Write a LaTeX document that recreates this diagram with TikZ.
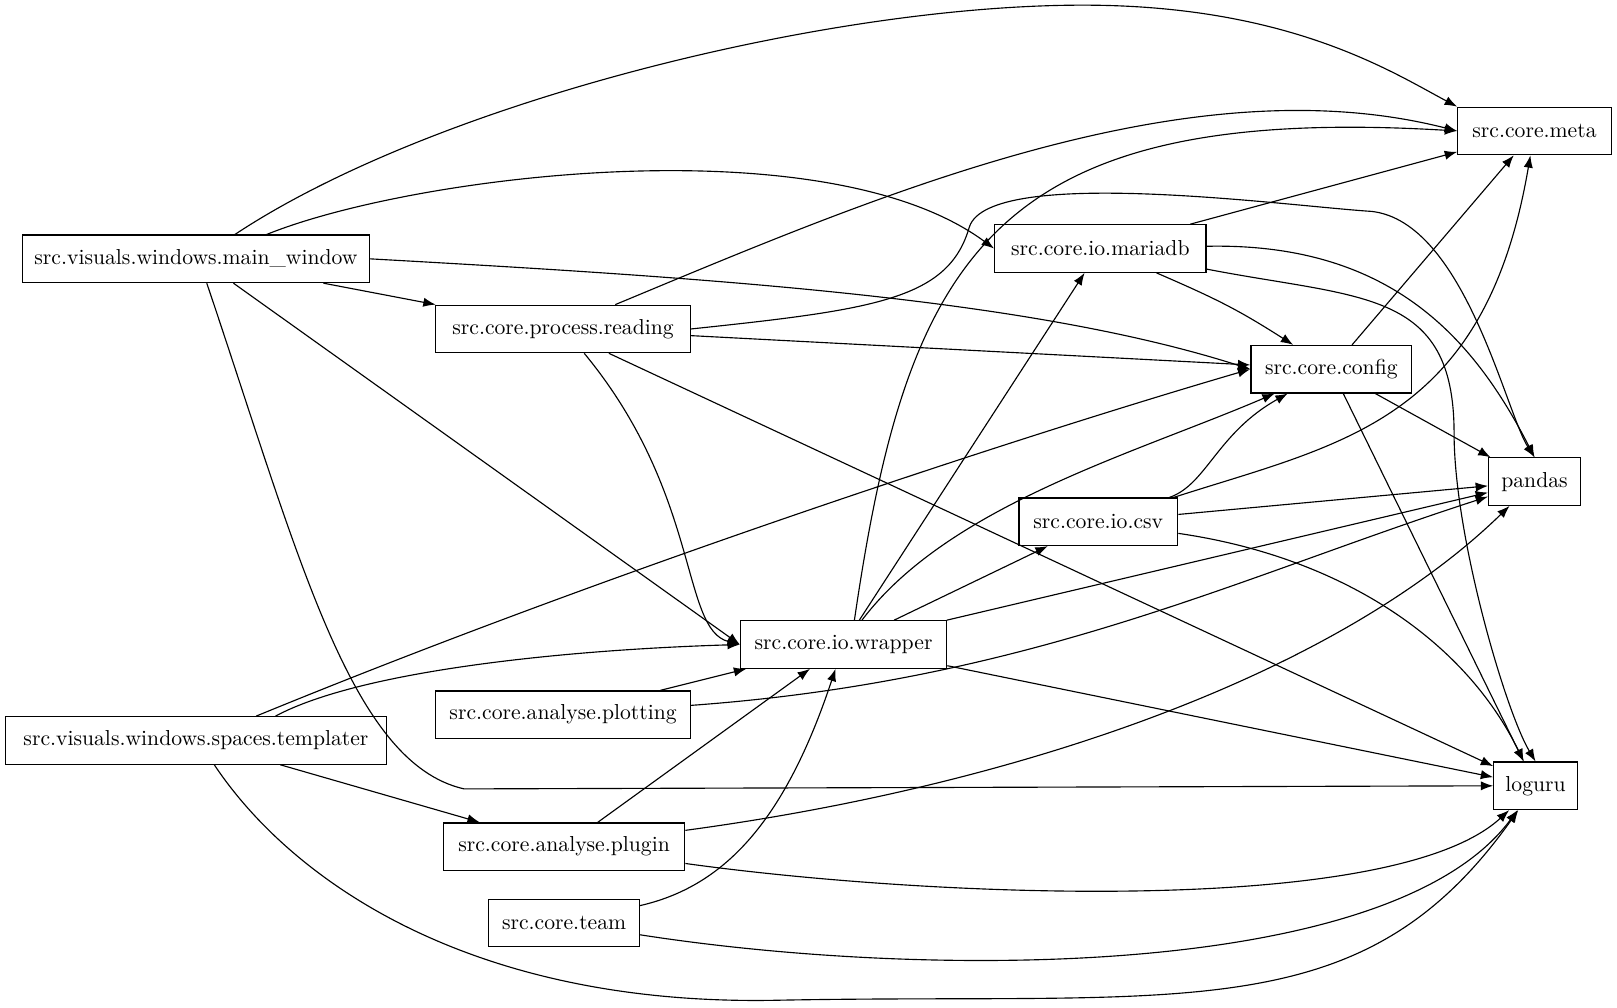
\documentclass[tikz,border=0pt]{standalone}
\usetikzlibrary{arrows.meta}
\begin{document}
\begin{tikzpicture}[x=0.5pt,y=-0.5pt,
  box/.style={draw,line width=0.6pt,minimum height=23pt,inner sep=0pt,font=\fontsize{10.5}{12}\selectfont},
  e/.style={draw,line width=0.55pt,-{Latex[length=6pt,width=4.5pt]}}]
\useasboundingbox (0,0) rectangle (1568,977);
\node[box,minimum width=168pt] (main) at (190,251) {src.visuals.windows.main\_window};
\node[box,minimum width=185pt] (tmp) at (190,718) {src.visuals.windows.spaces.templater};
\node[box,minimum width=123.5pt] (read) at (546,319) {src.core.process.reading};
\node[box,minimum width=102.5pt] (mdb) at (1067,241) {src.core.io.mariadb};
\node[box,minimum width=74.5pt] (meta) at (1488,127) {src.core.meta};
\node[box,minimum width=78pt] (cfg) at (1291,358) {src.core.config};
\node[box,minimum width=44.5pt] (pd) at (1488,467) {pandas};
\node[box,minimum width=77pt] (csv) at (1065,506) {src.core.io.csv};
\node[box,minimum width=100pt] (wr) at (818,625) {src.core.io.wrapper};
\node[box,minimum width=123.5pt] (plot) at (546,693) {src.core.analyse.plotting};
\node[box,minimum width=117pt] (plug) at (547,821) {src.core.analyse.plugin};
\node[box,minimum width=73pt] (team) at (547,895) {src.core.team};
\node[box,minimum width=40.5pt] (log) at (1489,762) {loguru};
\coordinate (c1) at (1050,5);
\coordinate (c2) at (450,765);
\coordinate (c3) at (940,220);
\coordinate (c4) at (1330,205);
\coordinate (c5) at (750,970);
% main
\draw[e] (main.32) .. controls (420,100) and (800,5) .. (c1) .. controls (1250,5) and (1350,70) .. (meta.north west);
\draw[e] (main.19) .. controls (400,170) and (800,120) .. (mdb.west);
\draw[e] (main) -- (read);
\draw[e] (main.east) .. controls (700,270) and (1000,290) .. (cfg.west);
\draw[e] (main.-33) -- (wr.west);
\draw[e] (main.-66) .. controls (290,540) and (340,740) .. (c2) -- (log.west);
% reading
\draw[e] (read.25) .. controls (850,190) and (1150,60) .. (meta.west);
\draw[e] (read.east) .. controls (850,300) and (920,290) .. (c3) .. controls (960,160) and (1250,200) .. (c4) .. controls (1420,215) and (1460,400) .. (pd.north);
\draw[e] (read) -- (cfg);
\draw[e] (read.-49) .. controls (680,480) and (660,610) .. (wr.west);
\draw[e] (read.-28) -- (log);
% mariadb
\draw[e] (mdb) -- (meta);
\draw[e] (mdb) .. controls (1180,290) and (1200,300) .. (cfg);
\draw[e] (mdb) .. controls (1350,235) and (1430,330) .. (pd.north);
\draw[e] (mdb) .. controls (1320,290) and (1410,280) .. (1410,420) .. controls (1410,520) and (1460,690) .. (log.north);
% config
\draw[e] (cfg) -- (meta);
\draw[e] (cfg) -- (pd);
\draw[e] (cfg) -- (log);
% csv
\draw[e] (csv) .. controls (1170,470) and (1180,420) .. (cfg);
\draw[e] (csv) .. controls (1300,430) and (1440,410) .. (meta);
\draw[e] (csv) -- (pd);
\draw[e] (csv) .. controls (1300,540) and (1420,620) .. (log);
% wrapper
\draw[e] (wr.66) .. controls (880,250) and (960,100) .. (meta.west);
\draw[e] (wr) -- (mdb);
\draw[e] (wr) .. controls (920,490) and (1100,440) .. (cfg);
\draw[e] (wr) -- (csv);
\draw[e] (wr) -- (pd);
\draw[e] (wr) -- (log);
% templater
\draw[e] (tmp.22) .. controls (600,550) and (1000,420) .. (cfg.west);
\draw[e] (tmp.17) .. controls (350,650) and (550,630) .. (wr.west);
\draw[e] (tmp) -- (plug);
\draw[e] (tmp.-53) .. controls (280,850) and (450,975) .. (c5) .. controls (1150,962) and (1320,1000) .. (log);
% others
\draw[e] (plot) -- (wr);
\draw[e] (plot) .. controls (1000,660) and (1200,560) .. (pd);
\draw[e] (plug) -- (wr);
\draw[e] (plug) .. controls (1000,760) and (1300,650) .. (pd);
\draw[e] (plug) .. controls (900,870) and (1350,890) .. (log);
\draw[e] (team) .. controls (700,860) and (760,800) .. (wr);
\draw[e] (team) .. controls (900,950) and (1350,950) .. (log);
\end{tikzpicture}
\end{document}
